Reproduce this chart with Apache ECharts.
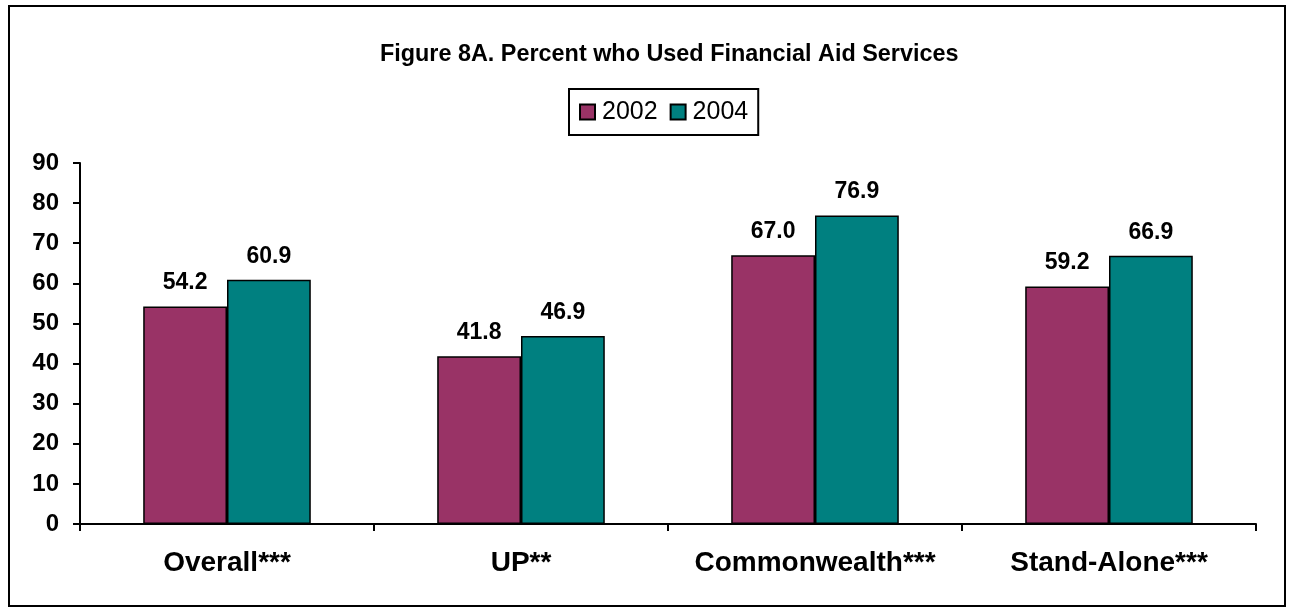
<!DOCTYPE html>
<html>
<head>
<meta charset="utf-8">
<script src="https://cdn.jsdelivr.net/npm/echarts@6/dist/echarts.min.js"></script>
<style>
  html, body { margin: 0; padding: 0; background: #fff; }
  #main { width: 1291px; height: 607px; }
</style>
</head>
<body>
<div id="main"></div>
<script>
// data
var categories = ["Overall***", "UP**", "Commonwealth***", "Stand-Alone***"];
var years = ["2002", "2004"];
var values2002 = [54.2, 41.8, 67.0, 59.2];
var values2004 = [60.9, 46.9, 76.9, 66.9];
var yTicks = [0, 10, 20, 30, 40, 50, 60, 70, 80, 90];

var font = "Liberation Sans, Arial, sans-serif";

var myChart = echarts.init(document.getElementById("main"), null, { renderer: "canvas" });

function barSeries(name, data, color) {
  return {
    name: name,
    type: "bar",
    data: data,
    barGap: "0%",
    barCategoryGap: "43%",
    itemStyle: { color: color, borderColor: "#000", borderWidth: 1.5 },
    label: {
      show: true,
      position: "top",
      distance: 12,
      fontFamily: font,
      fontWeight: "bold",
      fontSize: 23,
      color: "#000",
      formatter: function (p) { return p.value.toFixed(1); }
    },
    animation: false
  };
}

var option = {
  animation: false,
  textStyle: { fontFamily: font },
  title: {
    text: "Figure 8A. Percent who Used Financial Aid Services",
    left: 375,
    top: 38,
    textStyle: { fontFamily: font, fontWeight: "bold", fontSize: 23.4, color: "#000" }
  },
  legend: {
    data: years,
    left: 569,
    top: 89,
    padding: [10, 10, 10, 10],
    itemGap: 12,
    itemWidth: 15,
    itemHeight: 15,
    borderColor: "#000",
    borderWidth: 2,
    icon: "rect",
    itemStyle: { borderColor: "#000", borderWidth: 2 },
    textStyle: { fontFamily: font, fontSize: 25, color: "#000", lineHeight: 26, padding: [0, 0, 0, 2] }
  },
  grid: { left: 80, right: 35, top: 163, bottom: 83 },
  xAxis: {
    type: "category",
    data: categories,
    axisLine: { lineStyle: { color: "#000", width: 2 } },
    axisTick: { show: true, interval: 0, length: 7, inside: false, lineStyle: { color: "#000", width: 2 } },
    axisLabel: { interval: 0, fontFamily: font, fontWeight: "bold", fontSize: 28, color: "#000", margin: 25 }
  },
  yAxis: {
    type: "value",
    min: yTicks[0],
    max: yTicks[yTicks.length - 1],
    interval: 10,
    axisLine: { show: true, lineStyle: { color: "#000", width: 2 } },
    axisTick: { show: true, length: 7, lineStyle: { color: "#000", width: 2 } },
    splitLine: { show: false },
    axisLabel: { fontFamily: font, fontWeight: "bold", fontSize: 24, color: "#000", margin: 21 }
  },
  graphic: [
    {
      type: "rect",
      shape: { x: 9, y: 6, width: 1276, height: 600 },
      style: { fill: null, stroke: "#000", lineWidth: 2 },
      silent: true
    }
  ],
  series: [
    barSeries(years[0], values2002, "#993366"),
    barSeries(years[1], values2004, "#008080")
  ]
};

myChart.setOption(option);
window.addEventListener("resize", myChart.resize);
</script>
</body>
</html>
